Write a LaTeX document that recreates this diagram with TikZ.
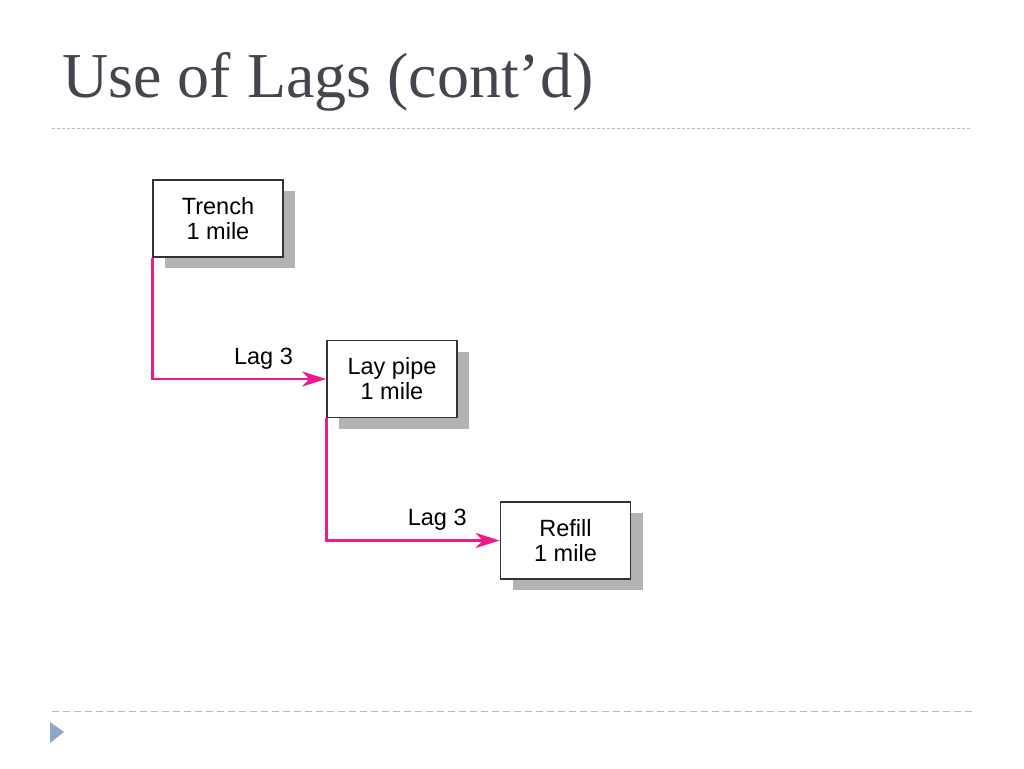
\documentclass[tikz,border=0pt]{standalone}
\usepackage{fontspec}
\usepackage{tikz}
\usetikzlibrary{shadows,arrows.meta}
\setmainfont{Liberation Serif}
\newfontfamily\boxfont{Liberation Sans}
\definecolor{titlegray}{HTML}{45454F}
\definecolor{lagpink}{HTML}{EC1A8C}
\definecolor{rulegray}{HTML}{B8BCC2}
\definecolor{markblue}{HTML}{8EA6C9}

\begin{document}
\begin{tikzpicture}[x=1pt,y=-1pt,
  task/.style={draw=black!80, line width=1.7pt, fill=white, minimum width=130pt, minimum height=77pt,
    align=center, font=\boxfont\fontsize{23.5}{25}\selectfont, inner sep=0pt,
    general shadow={fill=black!30, draw=none, shadow xshift=12pt, shadow yshift=-11pt}},
  lag/.style={draw=lagpink, line width=2.8pt, -{Stealth[length=24pt,width=15pt,inset=7pt]}},
  lagtext/.style={font=\boxfont\fontsize{23.5}{25}\selectfont, above=5pt, pos=0.82}]
\useasboundingbox (0,0) rectangle (1024,768);
% title and rules
\node[anchor=base west, inner sep=0pt, text=titlegray, font=\fontsize{64}{70}\selectfont] (title) at (62,97) {Use of Lags (cont'd)};
\draw[rulegray, line width=1pt, dash pattern=on 3pt off 2pt] (52,128) -- (972,128);
\draw[rulegray, line width=1pt, dash pattern=on 7pt off 4pt] (52,711) -- (972,711);
\fill[markblue] (50,722) -- (64,732) -- (50,743) -- cycle;
% tasks
\node[task] (trench) at (218,218.5) {Trench\\1 mile};
\node[task] (laypipe) at (392,379) {Lay pipe\\1 mile};
\node[task] (refill) at (565.5,540.5) {Refill\\1 mile};
% lags
\draw[lag] (trench.south west) |- node[lagtext] {Lag 3} (laypipe.west);
\draw[lag] (laypipe.south west) |- node[lagtext] {Lag 3} (refill.west);
\end{tikzpicture}
\end{document}
